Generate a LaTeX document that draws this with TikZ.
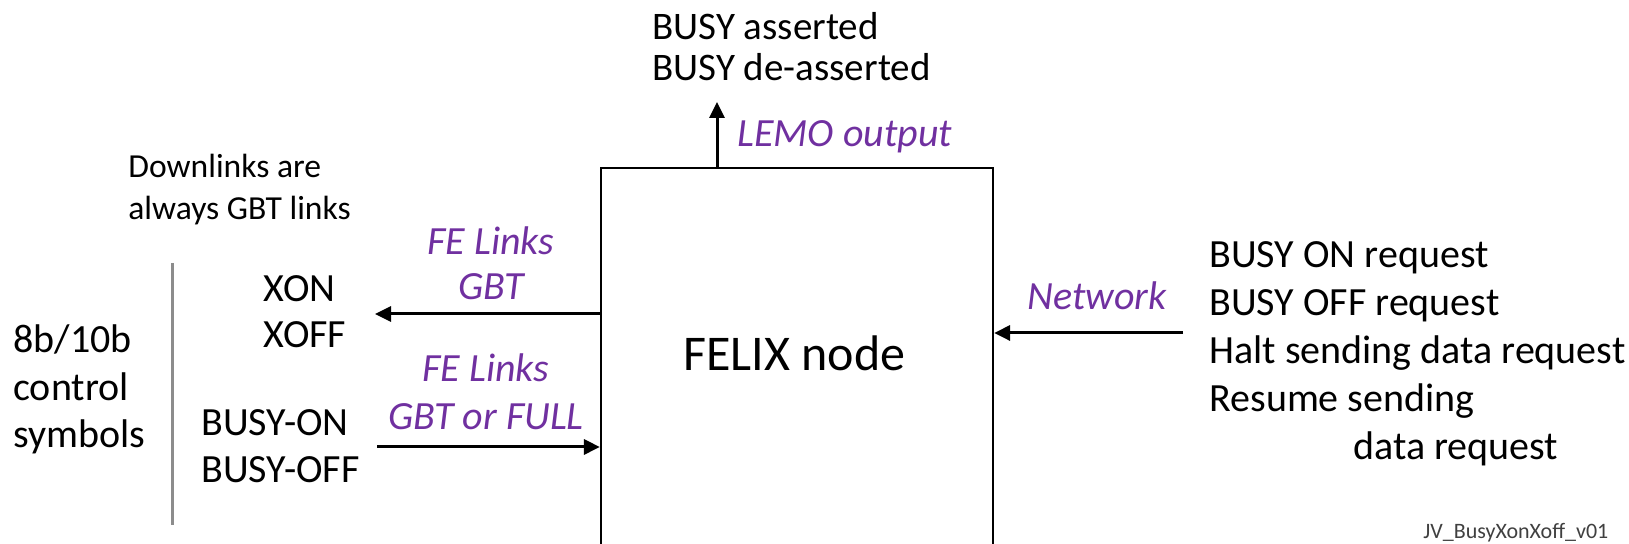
\documentclass[tikz,border=0pt]{standalone}
\usepackage{fontspec}
\setmainfont{Carlito}
\usetikzlibrary{arrows.meta,positioning}
\definecolor{linkpurple}{RGB}{112,48,160}
\definecolor{rulegray}{RGB}{140,140,140}

\begin{document}
\begin{tikzpicture}[x=0.5pt,y=-0.5pt,
    txt/.style={inner sep=0pt, align=left, font=\fontsize{20}{24}\selectfont},
    linklbl/.style={inner sep=0pt, align=center, text=linkpurple, font=\fontsize{20}{22.5}\selectfont\itshape},
    sig/.style={line width=1.5pt, -{Triangle[length=8pt,width=7.5pt]}}]
    \useasboundingbox (0,0) rectangle (1629,544);

    % FELIX box, cut by the bottom edge
    \node[draw, line width=1.1pt, minimum width=196pt, minimum height=220pt, inner sep=0pt] (felix) at (797,388) {};
    \node[inner sep=0pt, anchor=base, font=\fontsize{25}{30}\selectfont] (felixtxt) at (794.5,371) {FELIX node};

    % LEMO output (top)
    \node[txt, anchor=base west, font=\fontsize{19.5}{20.5}\selectfont] (busyout) at (652,81) {BUSY asserted\\BUSY de-asserted};
    \node[linklbl, anchor=base west] (lemo) at (737,147) {LEMO output};
    \coordinate (utip) at (717,102);
    \draw[sig] (felix.north -| utip) -- (utip);

    % FE links (left)
    \node[txt, anchor=base west, font=\fontsize{16.8}{21}\selectfont] (downl) at (128,220) {Downlinks are\\always GBT links};
    \node[txt, anchor=base west, font=\fontsize{20}{23.75}\selectfont] (symb) at (13,448) {8b/10b\\control\\symbols};
    \draw[rulegray, line width=1.5pt] (172,263) -- (172,525);
    \node[txt, anchor=base west, font=\fontsize{20}{23}\selectfont] (xon) at (263,348) {XON\\XOFF};
    \node[txt, anchor=base west, font=\fontsize{20}{23.5}\selectfont] (busyon) at (201,483) {BUSY-ON\\BUSY-OFF};
    \node[linklbl, anchor=base] (fegbt) at (491,300) {FE Links\\GBT};
    \node[linklbl, anchor=base, font=\fontsize{20}{24}\selectfont\itshape] (fefull) at (486,430) {FE Links\\GBT or FULL};
    \coordinate (xtip) at (375,314);
    \draw[sig] (felix.west |- xtip) -- (xtip);
    \coordinate (bstart) at (377,447);
    \draw[sig] (bstart) -- (felix.west |- bstart);

    % Network (right)
    \node[linklbl, anchor=base east] (net) at (1167,310) {Network};
    \node[txt, anchor=base west] (req) at (1209,460) {BUSY ON request\\BUSY OFF request\\Halt sending data request\\Resume sending\\\hspace*{72pt}data request};
    \coordinate (nstart) at (1183,333);
    \draw[sig] (nstart) -- (felix.east |- nstart);

    \node[inner sep=0pt, anchor=base west, text=black!75, font=\fontsize{11}{13}\selectfont] (tag) at (1423,539) {JV\_BusyXonXoff\_v01};
\end{tikzpicture}
\end{document}
